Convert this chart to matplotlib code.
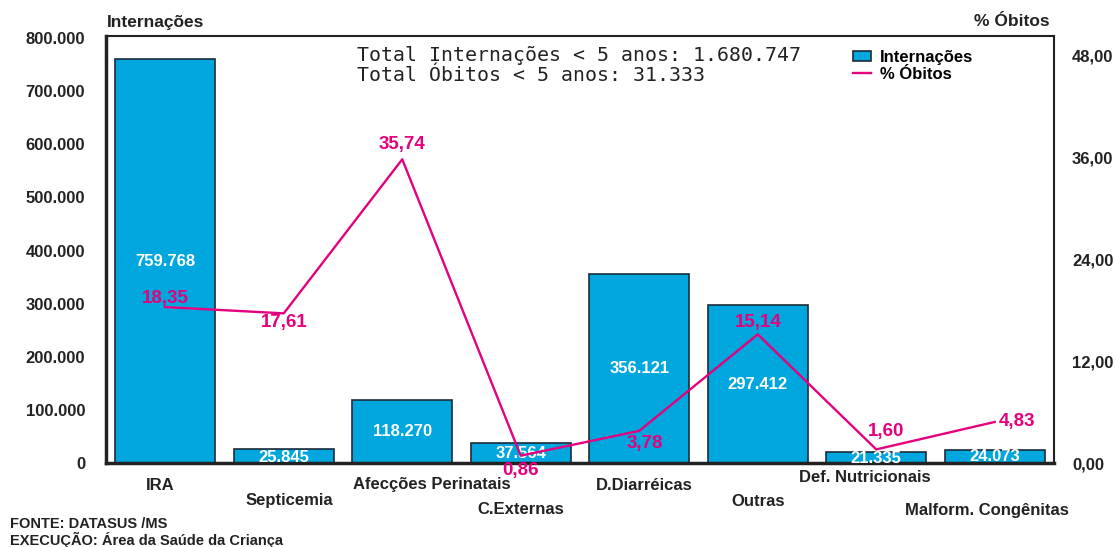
import matplotlib.pyplot as plt
import numpy as np

plt.rcParams['font.family'] = ['Liberation Sans', 'DejaVu Sans']

categories = ['IRA', 'Septicemia', 'Afecções Perinatais', 'C.Externas',
              'D.Diarréicas', 'Outras', 'Def. Nutricionais', 'Malform. Congênitas']
internacoes = [759768, 25845, 118270, 37564, 356121, 297412, 21335, 24073]
pct_obitos = [18.35, 17.61, 35.74, 0.86, 3.78, 15.14, 1.60, 4.83]
left_ticks = [0, 100000, 200000, 300000, 400000, 500000, 600000, 700000, 800000]
right_ticks = [0, 12, 24, 36, 48]

BLUE = '#00A6DE'
PINK = '#E5007D'
DARK = '#222222'
W, H = 1116, 547


def fmt_int(v):
    return f'{v:,}'.replace(',', '.')


def fmt_pct(v):
    return f'{v:.2f}'.replace('.', ',')


fig = plt.figure(figsize=(W / 100, H / 100), dpi=100)
ax = fig.add_axes([106 / W, 1 - 463 / H, (1054 - 106) / W, (463 - 36) / H])
x = np.arange(len(categories))

bars = ax.bar(x, internacoes, width=0.84, color=BLUE, edgecolor='#1c2b3a',
              linewidth=1.2, label='Internações', zorder=2)
ax.set_xlim(-0.5, len(categories) - 0.5)
ax.set_ylim(0, 804000)
ax.set_yticks(left_ticks)
ax.set_yticklabels([fmt_int(v) for v in left_ticks], fontsize=12, fontweight='bold',
                   color=DARK)
ax.tick_params(axis='y', length=0, pad=15)
ax.set_xticks([])
for sp in ax.spines.values():
    sp.set_color(DARK)
    sp.set_linewidth(1.5)
ax.spines['left'].set_linewidth(2.5)
ax.spines['bottom'].set_linewidth(2.5)

ax2 = ax.twinx()
ax2.set_ylim(0, 50.25)
ax2.set_yticks(right_ticks)
ax2.set_yticklabels([fmt_pct(v) for v in right_ticks], fontsize=12, fontweight='bold',
                    color=DARK)
ax2.tick_params(axis='y', length=0, pad=13)
line, = ax2.plot(x, pct_obitos, color=PINK, linewidth=1.7, label='% Óbitos', zorder=3)
for sp in ax2.spines.values():
    sp.set_visible(False)

# bar value labels (white, inside bars)
bar_label_y = [380000, 10500, 60000, 18500, 177000, 148700, 9400, 11300]
for xi, v, ly in zip(x, internacoes, bar_label_y):
    ax.text(xi, ly, fmt_int(v), color='white', fontsize=12, fontweight='bold',
            ha='center', va='center', zorder=4)

# percent labels
pct_offsets = [(0.0, 1.0), (0.0, -1.1), (0.0, 1.7), (0.0, -1.8),
               (0.05, -1.45), (0.0, 1.35), (0.08, 2.05), (0.19, 0.0)]
for xi, v, (dx, dy) in zip(x, pct_obitos, pct_offsets):
    ax2.text(xi + dx, v + dy, fmt_pct(v), color=PINK, fontsize=13.5, fontweight='bold',
             ha='center', va='center', zorder=5)

# category labels, staggered as in the original
cat_y = [485, 501, 485, 510, 485, 502, 477, 510]
cat_dx = [-0.04, 0.05, 0.25, 0.0, 0.04, 0.0, -0.1, -0.07]
for xi, name, py, dx in zip(x, categories, cat_y, cat_dx):
    xd = ax.transData.transform((xi + dx, 0))[0]
    fig.text(xd / W, 1 - py / H, name, fontsize=12, fontweight='bold',
             color=DARK, ha='center', va='center')

fig.text(357 / W, 1 - 46 / H,
         'Total Internações < 5 anos: 1.680.747\nTotal Óbitos < 5 anos: 31.333',
         fontsize=14.3, color=DARK, va='top', ha='left', linespacing=1.08,
         family=['DejaVu Sans Mono', 'DejaVu Sans'])

leg = ax.legend(handles=[bars, line], loc='upper left',
                bbox_to_anchor=((853 - 106) / (1054 - 106), 1 - 14 / 427),
                frameon=False, prop={'weight': 'bold', 'size': 12},
                handlelength=1.1, handleheight=0.55, labelspacing=0.1,
                handletextpad=0.5, borderaxespad=0, borderpad=0)

fig.text(107 / W, 1 - 22 / H, 'Internações', fontsize=12.5, fontweight='bold',
         color=DARK, va='center', ha='left')
fig.text(1050 / W, 1 - 22 / H, '% Óbitos', fontsize=12.5, fontweight='bold',
         color=DARK, va='center', ha='right')
fig.text(10 / W, 1 - 524 / H, 'FONTE: DATASUS /MS', fontsize=10.5, fontweight='bold',
         color=DARK, va='center', ha='left')
fig.text(10 / W, 1 - 540 / H, 'EXECUÇÃO: Área da Saúde da Criança', fontsize=10.5,
         fontweight='bold', color=DARK, va='center', ha='left')

fig.savefig('out.png', dpi=100)
